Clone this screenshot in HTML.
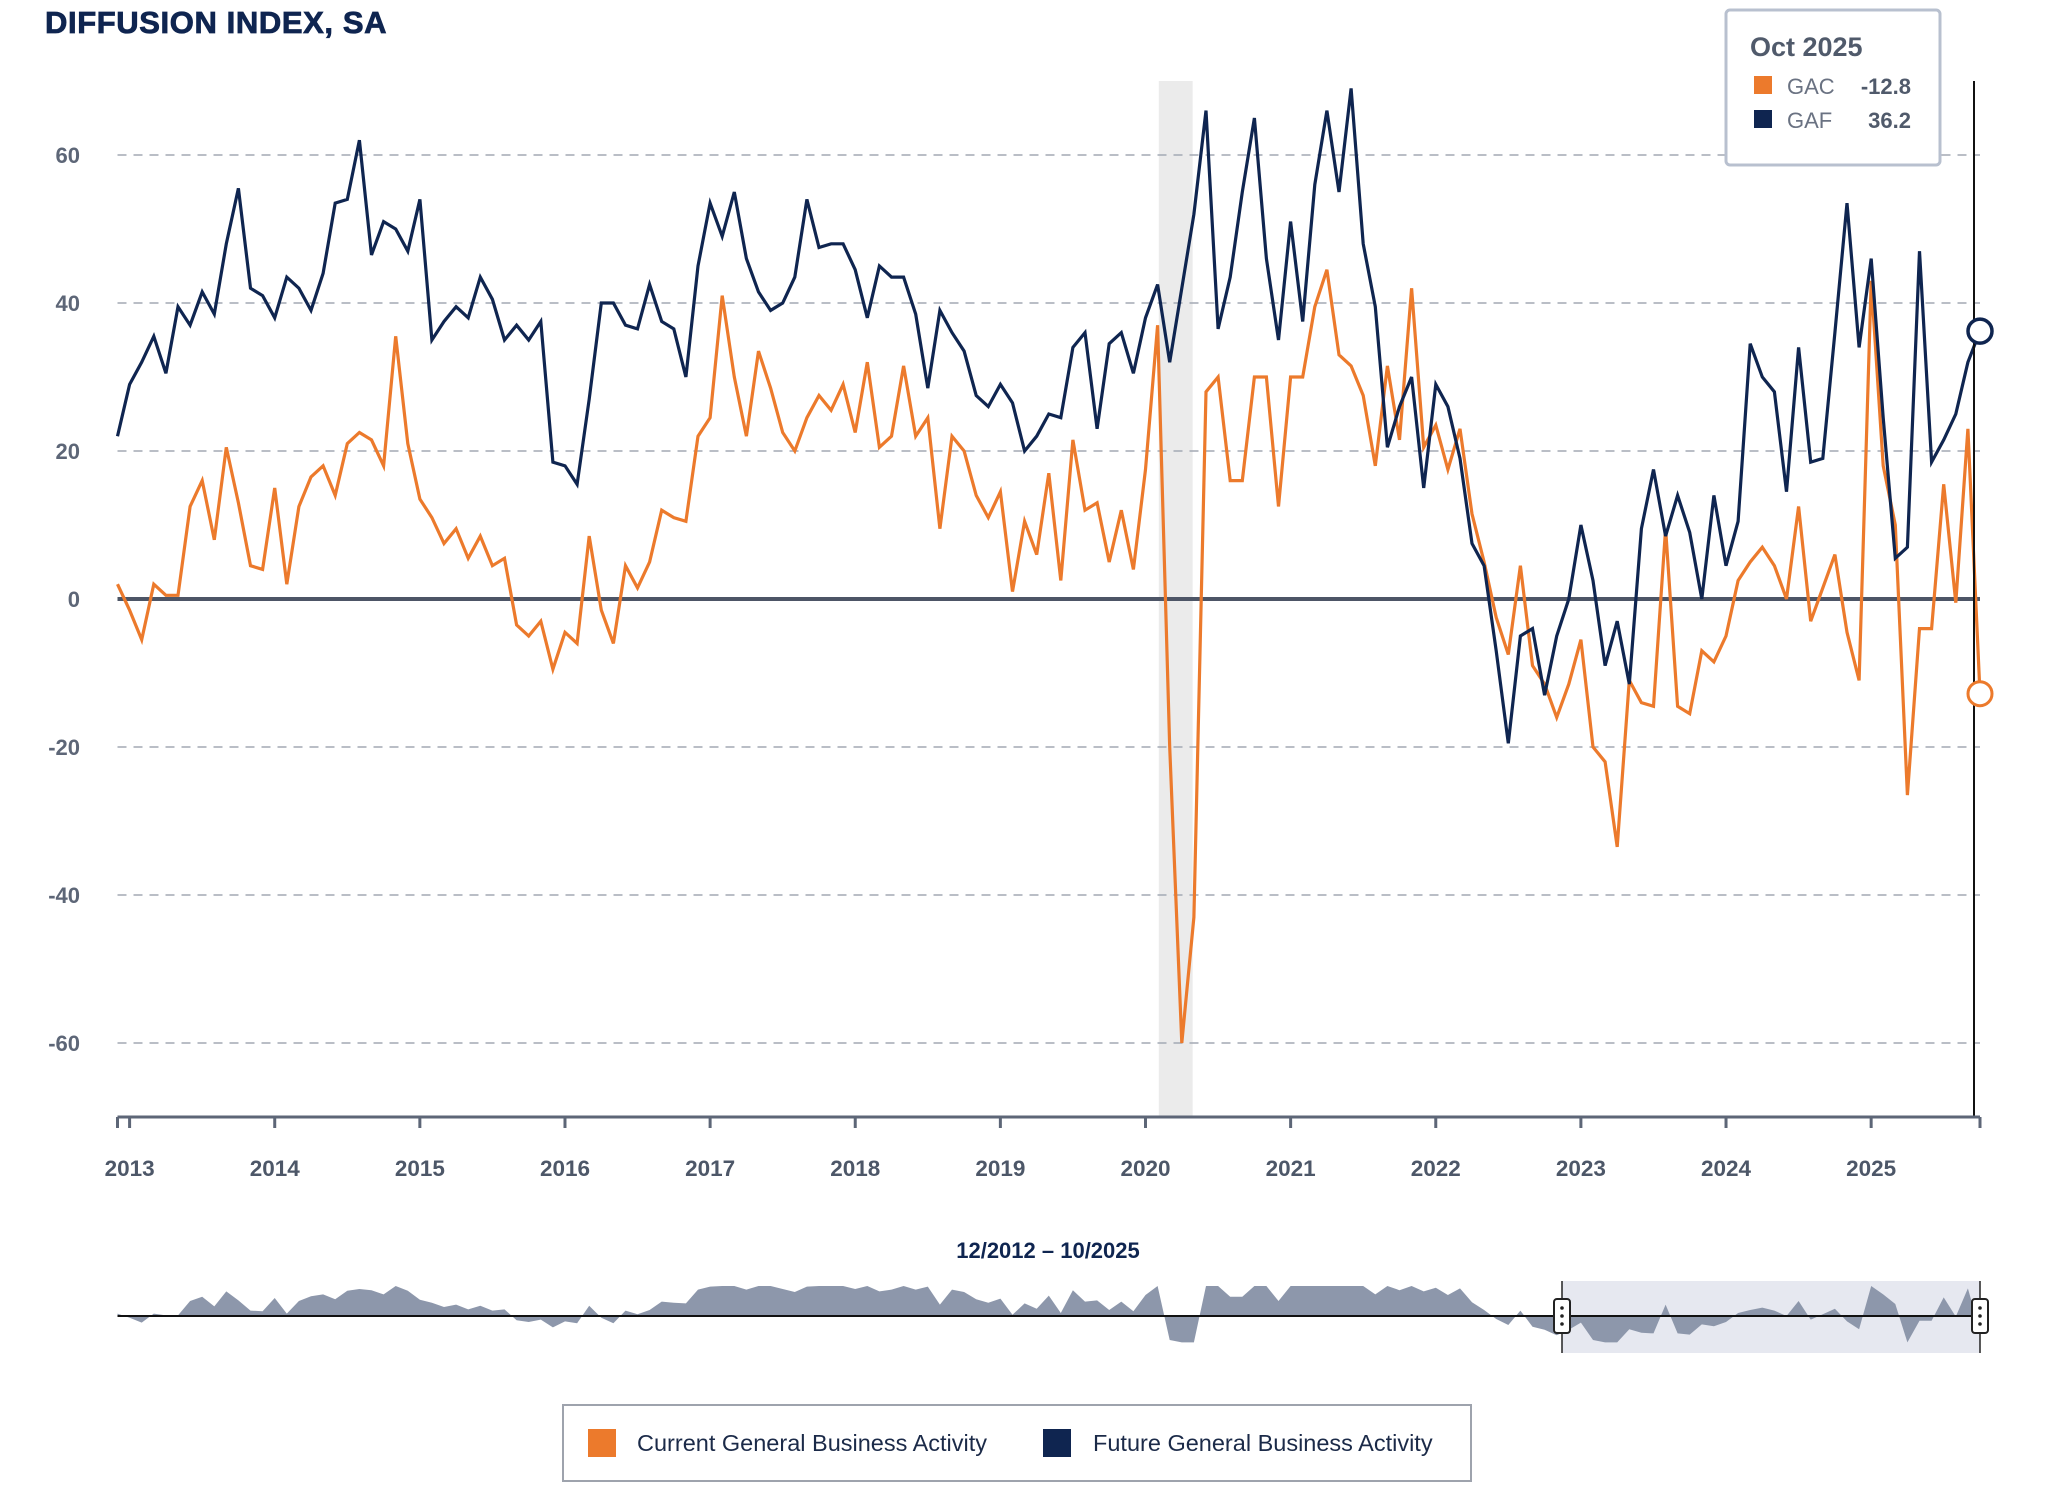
<!DOCTYPE html>
<html><head><meta charset="utf-8"><style>
html,body{margin:0;padding:0;background:#fff;}
svg{display:block;font-family:"Liberation Sans",sans-serif;}
</style></head><body>
<svg id="chart" width="2048" height="1490" viewBox="0 0 2048 1490" xmlns="http://www.w3.org/2000/svg">
<text x="45" y="33" font-size="31" font-weight="bold" fill="#0f2550" letter-spacing="0.6" stroke="#0f2550" stroke-width="0.8">DIFFUSION INDEX, SA</text>
<g id="grid"></g><g id="marks"></g><g id="axes"></g><g id="nav"></g>
<g>
<rect x="1726" y="10" width="214" height="155" rx="4" fill="#fff" stroke="#b8c0cf" stroke-width="3"/>
<text x="1750" y="56" font-size="27" font-weight="bold" fill="#505a6b">Oct 2025</text>
<rect x="1754" y="76" width="18" height="18" fill="#ec7a2c"/>
<text x="1787" y="94" font-size="22" fill="#6a7282">GAC</text>
<text x="1911" y="94" font-size="22" font-weight="bold" fill="#505a6b" text-anchor="end">-12.8</text>
<rect x="1754" y="110" width="18" height="18" fill="#0f2550"/>
<text x="1787" y="128" font-size="22" fill="#6a7282">GAF</text>
<text x="1911" y="128" font-size="22" font-weight="bold" fill="#505a6b" text-anchor="end">36.2</text>
</g>
<g>
<rect x="563" y="1405" width="908" height="76" fill="#fff" stroke="#9ea3ad" stroke-width="2"/>
<g><rect x="588" y="1429" width="28" height="28" fill="#ec7a2c"/>
<text x="637" y="1451" font-size="23.5" fill="#1b2a48">Current General Business Activity</text></g>
<g><rect x="1043" y="1429" width="28" height="28" fill="#0f2550"/>
<text x="1093" y="1451" font-size="23.5" fill="#1b2a48">Future General Business Activity</text></g>
</g>
</svg>
<script>
const startYear = 2012, startMonth = 11; // Dec 2012
const gaf = [22,
29,32,35.5,30.5,39.5,37,41.5,38.5,48,55.5,42,41,
38,43.5,42,39,44,53.5,54,62,46.5,51,50,47,
54,35,37.5,39.5,38,43.5,40.5,35,37,35,37.5,18.5,
18,15.5,27,40,40,37,36.5,42.5,37.5,36.5,30,45,
53.5,49,55,46,41.5,39,40,43.5,54,47.5,48,48,
44.5,38,45,43.5,43.5,38.5,28.5,39,36,33.5,27.5,26,
29,26.5,20,22,25,24.5,34,36,23,34.5,36,30.5,
38,42.5,32,42,52,66,36.5,43.5,55,65,46,35,
51,37.5,56,66,55,69,48,39.5,20.5,26,30,15,
29,26,19,7.5,4.5,-7,-19.5,-5,-4,-13,-5,0,
10,2.5,-9,-3,-11.5,9.5,17.5,8.5,14,9,0,14,
4.5,10.5,34.5,30,28,14.5,34,18.5,19,36,53.5,34,
46,24.5,5.5,7,47,18.5,21.5,25,32,36.2];
const gac = [2,
-1.5,-5.5,2,0.5,0.5,12.5,16,8,20.5,13,4.5,4,
15,2,12.5,16.5,18,14,21,22.5,21.5,18,35.5,21,
13.5,11,7.5,9.5,5.5,8.5,4.5,5.5,-3.5,-5,-3,-9.5,
-4.5,-6,8.5,-1.5,-6,4.5,1.5,5,12,11,10.5,22,
24.5,41,30,22,33.5,28.5,22.5,20,24.5,27.5,25.5,29,
22.5,32,20.5,22,31.5,22,24.5,9.5,22,20,14,11,
14.5,1,10.5,6,17,2.5,21.5,12,13,5,12,4,
17.5,37,-20,-60,-43,28,30,16,16,30,30,12.5,
30,30,39.5,44.5,33,31.5,27.5,18,31.5,21.5,42,20.5,
23.5,17.5,23,11.5,5,-2.5,-7.5,4.5,-9,-11.5,-16,-11.5,
-5.5,-20,-22,-33.5,-11,-14,-14.5,9.5,-14.5,-15.5,-7,-8.5,
-5,2.5,5,7,4.5,0,12.5,-3,1.5,6,-4.5,-11,
43,18,10,-26.5,-4,-4,15.5,-0.5,23,-12.8];
const yTicks = [60,40,20,0,-20,-40,-60];
const yearLabels = ["2013","2014","2015","2016","2017","2018","2019","2020","2021","2022","2023","2024","2025"];
const recession = [86.1, 88.9]; // month positions of shaded recession

const NS = "http://www.w3.org/2000/svg";
const X0 = 117.5, X1 = 1980, Y60 = 155, PXU = 7.4, AXY = 1117, TOP = 81;
const n = gaf.length;
const xs = i => X0 + (X1 - X0) * i / (n - 1);
const ys = v => Y60 + (60 - v) * PXU;
function mk(tag, attrs, parent){const e=document.createElementNS(NS,tag);for(const k in attrs)e.setAttribute(k,attrs[k]);parent.appendChild(e);return e;}
const grid = document.getElementById('grid'), marks = document.getElementById('marks'), axes = document.getElementById('axes'), nav = document.getElementById('nav');

const band = mk('rect',{x:xs(recession[0]),y:TOP,width:xs(recession[1])-xs(recession[0]),height:AXY-TOP,fill:'#ebebeb'},grid);



yTicks.forEach(t=>{
  if(t!==0){
    const l = mk('line',{x1:X0,x2:X1,y1:ys(t),y2:ys(t),stroke:'#a3a9b4','stroke-width':1.6,'stroke-dasharray':'9 7'},grid);
    
    
  }
  const tx = mk('text',{x:80,y:ys(t)+8,'font-size':22,'font-weight':'bold',fill:'#5d6677','text-anchor':'end'},axes);
  tx.textContent = t;
  
  
});
const zl = mk('line',{x1:X0,x2:X1,y1:ys(0),y2:ys(0),stroke:'#4d5566','stroke-width':4},grid);



function pts(arr){return arr.map((v,i)=>xs(i).toFixed(1)+','+ys(v).toFixed(1)).join(' ');}
const lc = mk('polyline',{points:pts(gac),fill:'none',stroke:'#ec7a2c','stroke-width':3.2,'stroke-linejoin':'miter'},marks);


const lf = mk('polyline',{points:pts(gaf),fill:'none',stroke:'#0f2550','stroke-width':3.2,'stroke-linejoin':'miter'},marks);



const vl = mk('line',{x1:xs(n-1)-6,x2:xs(n-1)-6,y1:TOP,y2:AXY,stroke:'#111','stroke-width':2},marks);


const c1 = mk('circle',{cx:xs(n-1),cy:ys(gac[n-1]),r:12,fill:'#fff',stroke:'#ec7a2c','stroke-width':3},marks);


const c2 = mk('circle',{cx:xs(n-1),cy:ys(gaf[n-1]),r:12,fill:'#fff',stroke:'#0f2550','stroke-width':3.5},marks);



const ax = mk('line',{x1:X0,x2:X1,y1:AXY,y2:AXY,stroke:'#5d6677','stroke-width':3},axes);


[0, n-1].forEach(i=>{mk('line',{x1:xs(i),x2:xs(i),y1:AXY,y2:AXY+11,stroke:'#5d6677','stroke-width':3},axes);});
yearLabels.forEach((lab,k)=>{
  const i = 1 + 12*k;
  mk('line',{x1:xs(i),x2:xs(i),y1:AXY,y2:AXY+11,stroke:'#5d6677','stroke-width':3},axes);
  const t = mk('text',{x:xs(i),y:1176,'font-size':22.5,'font-weight':'bold',fill:'#4d5768','text-anchor':'middle'},axes);
  t.textContent = lab;
  
  
});

const NB = 1316, NS2 = 1.2;
const nt = mk('text',{x:1048,y:1258,'font-size':22,'font-weight':'bold',fill:'#0f2550','text-anchor':'middle'},nav);
nt.textContent = '12/2012 – 10/2025';


const sel = mk('rect',{x:1562,y:1281,width:X1-1562,height:72,fill:'#e6e8f0'},nav);


let d = 'M'+X0+','+NB+' ';
gac.forEach((v,i)=>{const vv=Math.max(-22,Math.min(25,v));d+='L'+xs(i).toFixed(1)+','+(NB-vv*NS2).toFixed(1)+' ';});
d += 'L'+X1+','+NB+' Z';
const na = mk('path',{d:d,fill:'#8d97ab'},nav);


mk('line',{x1:X0,x2:X1,y1:NB,y2:NB,stroke:'#111','stroke-width':2},nav);
[1562, X1].forEach(hx=>{
  mk('line',{x1:hx,x2:hx,y1:1281,y2:1353,stroke:'#222','stroke-width':1.5},nav);
  const h = mk('rect',{x:hx-8,y:1299,width:16,height:34,rx:3,fill:'#fff',stroke:'#222','stroke-width':2},nav);
  
  
  [1308,1316,1324].forEach(cy=>mk('circle',{cx:hx,cy:cy,r:1.8,fill:'#222'},nav));
});
</script>
</body></html>
